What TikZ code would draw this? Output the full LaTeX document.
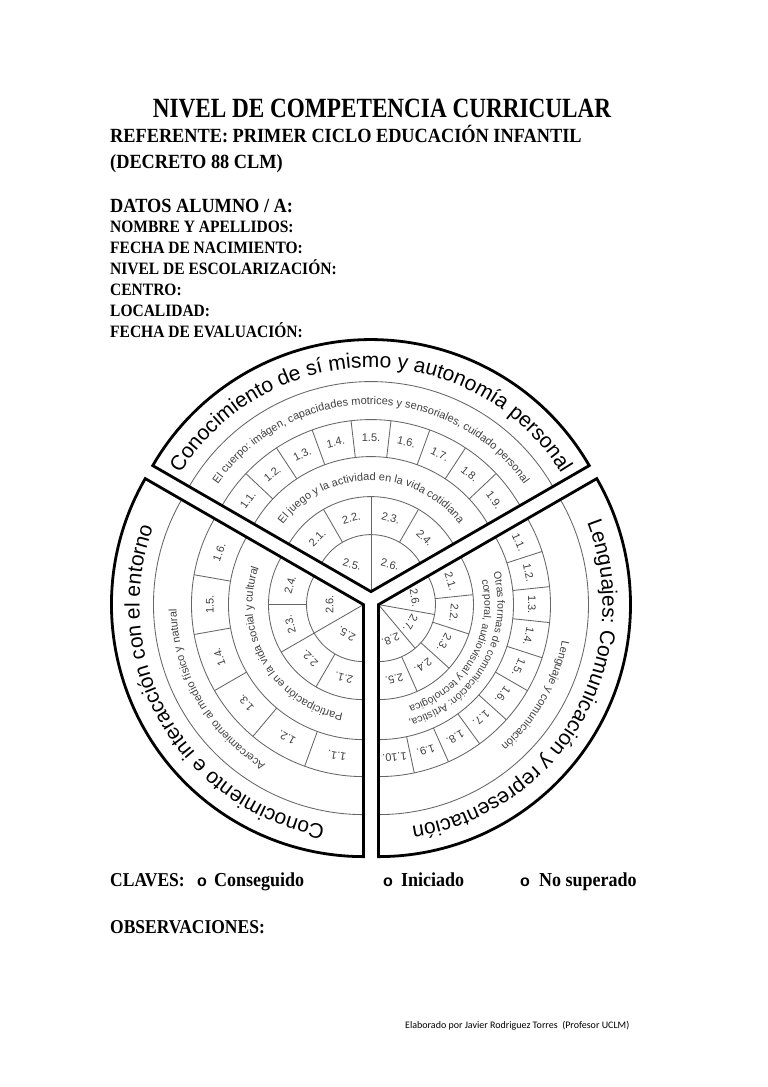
\documentclass[tikz,border=0pt]{standalone}
\usepackage{fontspec}
\usepackage{graphicx}
\setmainfont{Liberation Serif}
\newfontfamily\wf{Liberation Sans}
\newfontfamily\ftf{Carlito}
\usetikzlibrary{decorations.text}
\newcommand\vstretch[2]{\scalebox{1}[#1]{#2}}

\begin{document}
\begin{tikzpicture}[x=1pt,y=1pt,
  thinl/.style={draw=black!60, line width=0.85pt},
  outl/.style={draw=black, line width=2.8pt, line join=miter, miter limit=20},
  cell/.style={font=\wf\fontsize{11}{11}\selectfont, text=black!75, inner sep=0pt},
  hdr/.style={anchor=base west, inner sep=0pt, font=\bfseries\fontsize{18.3}{20}\selectfont},
  sml/.style={anchor=base west, inner sep=0pt, font=\bfseries\fontsize{15.5}{18}\selectfont},
  key/.style={anchor=base west, inner sep=0pt, font=\bfseries\fontsize{18}{20}\selectfont},
  bul/.style={anchor=base west, inner sep=0pt, font=\wf\bfseries\fontsize{16}{16}\selectfont},
]
\path[fill=white] (0,0) rectangle (768,-1087);
\useasboundingbox (0,0) rectangle (768,-1087);

% ---------- header ----------
\node[anchor=base, inner sep=0pt, font=\bfseries\fontsize{23.2}{26}\selectfont] (title) at (382,-117) {\vstretch{1.2}{NIVEL DE COMPETENCIA CURRICULAR}};
\node[hdr] (ref) at (110,-142) {\vstretch{1.1}{REFERENTE: PRIMER CICLO EDUCACIÓN INFANTIL}};
\node[hdr] (dec) at (110,-168) {\vstretch{1.1}{(DECRETO 88 CLM)}};
\node[hdr] (datos) at (110,-212) {\vstretch{1.1}{DATOS ALUMNO / A:}};
\node[sml] (f1) at (110,-232) {\vstretch{1.12}{NOMBRE Y APELLIDOS:}};
\node[sml] (f2) at (110,-253) {\vstretch{1.12}{FECHA DE NACIMIENTO:}};
\node[sml] (f3) at (110,-274) {\vstretch{1.12}{NIVEL DE ESCOLARIZACIÓN:}};
\node[sml] (f4) at (110,-295) {\vstretch{1.12}{CENTRO:}};
\node[sml] (f5) at (110,-316) {\vstretch{1.12}{LOCALIDAD:}};
\node[sml] (f6) at (110,-337) {\vstretch{1.12}{FECHA DE EVALUACIÓN:}};

% ---------- top sector ----------
\coordinate (T) at (371,-591.6);
\begin{scope}[shift={(T)}]
  \foreach \r in {57,95,135,172,210} \draw[thinl] (30:\r) arc[start angle=30, end angle=150, radius=\r];
  \draw[thinl] (0,0) -- (90:57);
  \foreach \a in {120,90,60} \draw[thinl] (\a:57) -- (\a:95);
  \foreach \i in {1,...,8} \draw[thinl] ({150-\i*120/9}:135) -- ({150-\i*120/9}:172);
  \foreach \i in {1,...,9} \node[cell, rotate={60-(\i-0.5)*120/9}] (T1\i) at ({150-(\i-0.5)*120/9}:153.5) {1.\i.};
  \foreach \i in {1,...,4} \node[cell, rotate={60-(\i-0.5)*30}] (T2\i) at ({150-(\i-0.5)*30}:76) {2.\i.};
  \node[cell, rotate=-15] (T25) at (125:33) {2.5.};
  \node[cell, rotate=-15] (T26) at (55:33) {2.6.};
  \path[decorate, decoration={text along path, text align=center, text={|\wf\fontsize{11}{11}\selectfont\color{black!75}|El cuerpo: imágen, capacidades motrices y sensoriales, cuidado personal}}] (150:187) arc[start angle=150, end angle=30, radius=187];
  \path[decorate, decoration={text along path, text align=center, text={|\wf\fontsize{11}{11}\selectfont\color{black!75}|El juego y la actividad en la vida cotidiana}}] (150:111) arc[start angle=150, end angle=30, radius=111];
  \path[decorate, decoration={text along path, text align=center, text={|\wf\fontsize{21}{21}\selectfont|Conocimiento de sí mismo y autonomía personal}}] (150:224) arc[start angle=150, end angle=30, radius=224];
  \draw[outl] (0,0) -- (30:252) arc[start angle=30, end angle=150, radius=252] -- cycle;
\end{scope}

% ---------- left sector ----------
\coordinate (L) at (363.5,-604.6);
\begin{scope}[shift={(L)}]
  \foreach \r in {57,95,135,172,210} \draw[thinl] (150:\r) arc[start angle=150, end angle=270, radius=\r];
  \draw[thinl] (0,0) -- (210:57);
  \foreach \a in {240,210,180} \draw[thinl] (\a:57) -- (\a:95);
  \foreach \i in {1,...,5} \draw[thinl] ({270-\i*20}:135) -- ({270-\i*20}:172);
  \foreach \i in {1,...,6} \node[cell, rotate={180-(\i-0.5)*20}] (L1\i) at ({270-(\i-0.5)*20}:153.5) {1.\i.};
  \foreach \i in {1,...,4} \node[cell, rotate={180-(\i-0.5)*30}] (L2\i) at ({270-(\i-0.5)*30}:76) {2.\i.};
  \node[cell, rotate=150] (L25) at (240:34) {2.5.};
  \node[cell, rotate=90] (L26) at (180:34) {2.6.};
  \path[decorate, decoration={text along path, text align=center, text={|\wf\fontsize{11}{11}\selectfont\color{black!75}|Acercamiento al medio físico y natural}}] (270:187) arc[start angle=270, end angle=150, radius=187];
  \path[decorate, decoration={text along path, text align=center, text={|\wf\fontsize{11}{11}\selectfont\color{black!75}|Participación en la vida social y cultural}}] (270:111) arc[start angle=270, end angle=150, radius=111];
  \path[decorate, decoration={text along path, text align=center, text={|\wf\fontsize{21}{21}\selectfont|Conocimiento e interacción con el entorno}}] (268:224) arc[start angle=268, end angle=152, radius=224];
  \draw[outl] (0,0) -- (150:252) arc[start angle=150, end angle=270, radius=252] -- cycle;
\end{scope}

% ---------- right sector ----------
\coordinate (R) at (378.5,-604.6);
\begin{scope}[shift={(R)}]
  \foreach \r in {57,95,135,172,210} \draw[thinl] (-90:\r) arc[start angle=-90, end angle=30, radius=\r];
  \foreach \a in {-10,-50} \draw[thinl] (0,0) -- (\a:57);
  \foreach \i in {1,...,4} \draw[thinl] ({30-\i*24}:57) -- ({30-\i*24}:95);
  \foreach \i in {1,...,9} \draw[thinl] ({30-\i*12}:135) -- ({30-\i*12}:172);
  \foreach \i in {1,...,10} \node[cell, rotate={-60-(\i-0.5)*12}] (R1\i) at ({30-(\i-0.5)*12}:153.5) {1.\i.};
  \foreach \i in {1,...,5} \node[cell, rotate={-60-(\i-0.5)*24}] (R2\i) at ({30-(\i-0.5)*24}:76) {2.\i.};
  \node[cell, rotate=-80] (R26) at (11:37) {2.6.};
  \node[cell, rotate=-120] (R27) at (-30:37) {2.7.};
  \node[cell, rotate=-160] (R28) at (-71:37) {2.8.};
  \path[decorate, decoration={text along path, text align=center, text={|\wf\fontsize{11}{11}\selectfont\color{black!75}|Lenguaje y comunicación}}] (30:187) arc[start angle=30, end angle=-90, radius=187];
  \path[decorate, decoration={text along path, text align=center, text={|\wf\fontsize{10.5}{10.5}\selectfont\color{black!75}|Otras formas de comunicación: Artística,}}] (30:119) arc[start angle=30, end angle=-90, radius=119];
  \path[decorate, decoration={text along path, text align=center, text={|\wf\fontsize{10.5}{10.5}\selectfont\color{black!75}|corporal, audiovisual y tecnológica}}] (30:106) arc[start angle=30, end angle=-90, radius=106];
  \path[decorate, decoration={text along path, text align=center, text={|\wf\fontsize{21}{21}\selectfont|Lenguajes: Comunicación y representación}}] (28:224) arc[start angle=28, end angle=-88, radius=224];
  \draw[outl] (0,0) -- (-90:252) arc[start angle=-90, end angle=30, radius=252] -- cycle;
\end{scope}

% ---------- keys ----------
\node[anchor=base west, inner sep=0pt, font=\bfseries\fontsize{17.5}{20}\selectfont] (claves) at (110,-886) {\vstretch{1.12}{CLAVES:}};
\node[bul] (o1) at (197,-886) {o};
\node[key] (k1) at (214,-886) {\vstretch{1.1}{Conseguido}};
\node[bul] (o2) at (383,-886) {o};
\node[key] (k2) at (401,-886) {\vstretch{1.1}{Iniciado}};
\node[bul] (o3) at (520,-886) {o};
\node[key] (k3) at (539,-886) {\vstretch{1.1}{No superado}};
\node[anchor=base west, inner sep=0pt, font=\bfseries\fontsize{17.5}{20}\selectfont] (obs) at (110,-933) {\vstretch{1.12}{OBSERVACIONES:}};
\node[anchor=base west, inner sep=0pt, font=\ftf\fontsize{10}{12}\selectfont] (foot) at (405,-1028) {Elaborado por Javier Rodriguez Torres\ \ (Profesor UCLM)};
\end{tikzpicture}
\end{document}
